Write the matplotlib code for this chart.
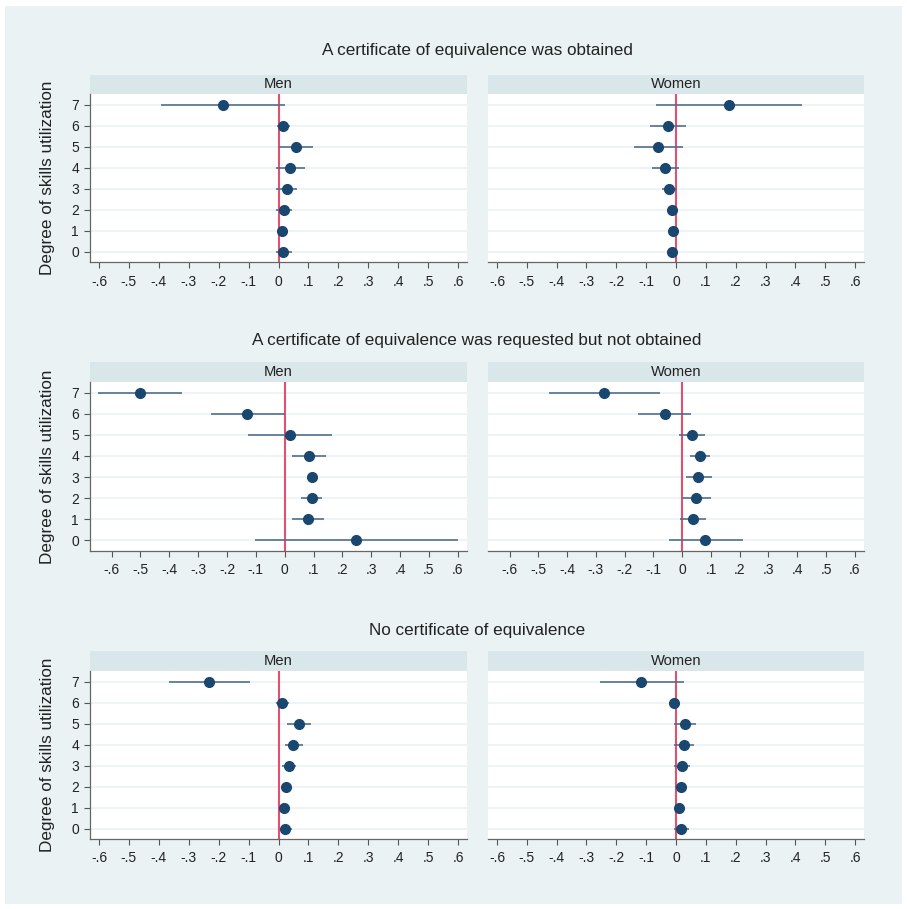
import matplotlib
matplotlib.use("Agg")
import matplotlib.pyplot as plt
from matplotlib.patches import Rectangle
import numpy as np

plt.rcParams['font.family'] = ['Liberation Sans', 'DejaVu Sans']

levels = [0, 1, 2, 3, 4, 5, 6, 7]
xticks = [-0.6, -0.5, -0.4, -0.3, -0.2, -0.1, 0, 0.1, 0.2, 0.3, 0.4, 0.5, 0.6]
xtick_labels = ["-.6", "-.5", "-.4", "-.3", "-.2", "-.1", "0", ".1", ".2", ".3", ".4", ".5", ".6"]
row_titles = ["A certificate of equivalence was obtained",
              "A certificate of equivalence was requested but not obtained",
              "No certificate of equivalence"]
col_titles = ["Men", "Women"]
ylabel = "Degree of skills utilization"

# Row 1: obtained  (values for levels 0..7)
obt_men_est = [0.016, 0.011, 0.018, 0.027, 0.040, 0.057, 0.016, -0.185]
obt_men_lo = [-0.010, -0.002, -0.007, -0.008, -0.008, 0.001, -0.004, -0.392]
obt_men_hi = [0.044, 0.027, 0.044, 0.062, 0.088, 0.115, 0.040, 0.023]
obt_wom_est = [-0.012, -0.010, -0.014, -0.023, -0.036, -0.059, -0.028, 0.178]
obt_wom_lo = [-0.023, -0.020, -0.026, -0.048, -0.080, -0.140, -0.087, -0.067]
obt_wom_hi = [-0.001, 0.000, -0.003, 0.002, 0.009, 0.024, 0.033, 0.421]

# Row 2: requested but not obtained
req_men_est = [0.248, 0.080, 0.093, 0.093, 0.085, 0.017, -0.129, -0.501]
req_men_lo = [-0.103, 0.024, 0.056, 0.077, 0.024, -0.128, -0.257, -0.648]
req_men_hi = [0.600, 0.137, 0.130, 0.109, 0.144, 0.163, 0.001, -0.357]
req_wom_est = [0.081, 0.037, 0.049, 0.056, 0.061, 0.035, -0.060, -0.271]
req_wom_lo = [-0.047, -0.008, 0.000, 0.012, 0.026, -0.011, -0.152, -0.464]
req_wom_hi = [0.210, 0.082, 0.099, 0.103, 0.095, 0.078, 0.032, -0.077]

# Row 3: no certificate
no_men_est = [0.023, 0.017, 0.025, 0.035, 0.050, 0.068, 0.012, -0.231]
no_men_lo = [0.007, 0.003, 0.009, 0.012, 0.023, 0.029, -0.010, -0.367]
no_men_hi = [0.044, 0.029, 0.040, 0.057, 0.081, 0.107, 0.035, -0.094]
no_wom_est = [0.017, 0.010, 0.016, 0.020, 0.028, 0.030, -0.007, -0.116]
no_wom_lo = [-0.007, -0.001, -0.003, -0.006, -0.007, -0.007, -0.020, -0.256]
no_wom_hi = [0.043, 0.022, 0.036, 0.047, 0.061, 0.066, 0.004, 0.027]

panels = [
    [(obt_men_est, obt_men_lo, obt_men_hi), (obt_wom_est, obt_wom_lo, obt_wom_hi)],
    [(req_men_est, req_men_lo, req_men_hi), (req_wom_est, req_wom_lo, req_wom_hi)],
    [(no_men_est, no_men_lo, no_men_hi), (no_wom_est, no_wom_lo, no_wom_hi)],
]
row_xlims = [(-0.63, 0.63), (-0.675, 0.632), (-0.63, 0.63)]

W, H = 907, 909
fig = plt.figure(figsize=(W / 100, H / 100), dpi=100)
fig.patch.set_facecolor('white')
BG = '#EAF2F3'
STRIP = '#D9E6EA'
NAVY = '#1A476F'
CI = '#4F6F8F'
RED = '#E2506F'
TXT = '#222222'

fig.patches.append(Rectangle((5 / W, 5 / H), (902 - 5) / W, (903 - 5) / H,
                             transform=fig.transFigure, facecolor=BG,
                             edgecolor='none', zorder=-10))

def fx(px):
    return px / W

def fy(py):
    return 1 - py / H

col_x = [(90, 467), (488, 864)]
rows = [(75, 94, 262, 50), (362, 382, 551, 340), (651, 671, 839, 630)]

for r, (st, pt, pb, ty) in enumerate(rows):
    fig.text(fx(477), fy(ty), row_titles[r], ha='center', va='center', fontsize=12.3, color=TXT)
    fig.text(fx(48), fy((pt + pb) / 2), ylabel, ha='center', va='center', rotation=90,
             fontsize=12.3, color=TXT)
    for c, (x0, x1) in enumerate(col_x):
        est, lo, hi = panels[r][c]
        # strip
        sax = fig.add_axes([fx(x0), fy(pt), fx(x1 - x0), (pt - st) / H])
        sax.set_facecolor(STRIP)
        sax.set_xticks([]); sax.set_yticks([])
        for s in sax.spines.values():
            s.set_visible(False)
        sax.text(0.5, 0.5, col_titles[c], ha='center', va='center', fontsize=10.6,
                 color=TXT, transform=sax.transAxes)
        ax = fig.add_axes([fx(x0), fy(pb), fx(x1 - x0), (pb - pt) / H])
        ax.set_facecolor('white')
        ax.set_xlim(*row_xlims[r])
        ax.set_ylim(-0.5, 7.5)
        for lv in levels:
            ax.axhline(lv, color='#EAF2F3', lw=1.2, zorder=1)
        ax.axvline(0, color=RED, lw=1.5, zorder=2)
        ax.hlines(levels, lo, hi, color=CI, lw=1.2, zorder=3)
        ax.plot(est, levels, 'o', color=NAVY, ms=7, zorder=4, mec=NAVY)
        ax.set_xticks(xticks)
        ax.set_xticklabels(xtick_labels, fontsize=10, color=TXT)
        ax.tick_params(axis='x', length=4, width=0.8, color='#555555', pad=5)
        ax.spines['top'].set_visible(False)
        ax.spines['right'].set_visible(False)
        ax.spines['bottom'].set_color('#666666')
        ax.spines['bottom'].set_linewidth(0.9)
        if c == 0:
            ax.set_yticks(levels)
            ax.set_yticklabels([str(v) for v in levels], fontsize=10, color=TXT)
            ax.tick_params(axis='y', length=4, width=0.8, color='#555555', pad=4)
            ax.spines['left'].set_color('#666666')
            ax.spines['left'].set_linewidth(0.9)
        else:
            ax.set_yticks([])
            ax.spines['left'].set_visible(False)

fig.savefig('out.png', dpi=100, facecolor='white')
